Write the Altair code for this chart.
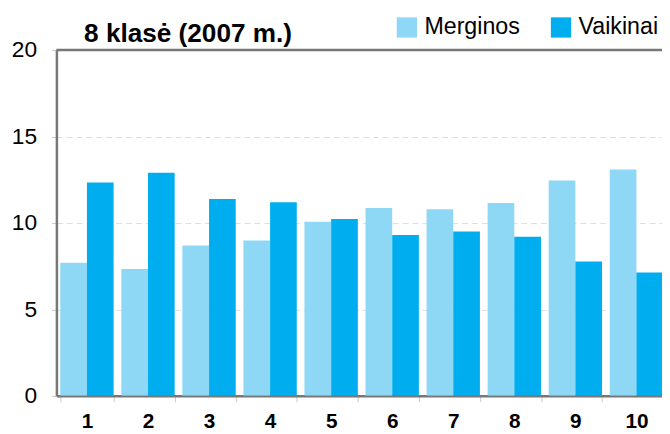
import altair as alt
import pandas as pd

grades = ["1", "2", "3", "4", "5", "6", "7", "8", "9", "10"]
merginos = [7.7, 7.33, 8.7, 8.99, 10.07, 10.86, 10.8, 11.16, 12.46, 13.09]
vaikinai = [12.34, 12.91, 11.39, 11.2, 10.23, 9.31, 9.5, 9.2, 7.77, 7.14]
series = ["Merginos", "Vaikinai"]
colors = ["#8ED8F6", "#00AEEF"]

rows = []
for i, g in enumerate(grades):
    rows.append({"klase": g, "lytis": series[0], "v": merginos[i]})
    rows.append({"klase": g, "lytis": series[1], "v": vaikinai[i]})
df = pd.DataFrame(rows)

FONT = "Liberation Sans"
AXIS_COL = "#777777"

bars = alt.Chart(df).mark_bar(clip=True).encode(
    x=alt.X("klase:N", sort=grades,
            scale=alt.Scale(range=[0, 618], paddingInner=0.126, paddingOuter=0.063),
            axis=alt.Axis(title=None, labelAngle=0, labelFont=FONT, labelFontSize=21,
                          labelFontWeight="bold", labelColor="#000000", labelPadding=9,
                          tickBand="extent", tickColor="#c8c8c8", tickSize=6,
                          domainColor=AXIS_COL, domainWidth=2.5, grid=False)),
    xOffset=alt.XOffset("lytis:N", sort=series, scale=alt.Scale(paddingInner=0, paddingOuter=0)),
    y=alt.Y("v:Q", scale=alt.Scale(domain=[0, 20], nice=False),
            axis=alt.Axis(title=None, values=[0, 5, 10, 15, 20], labelFont=FONT,
                          labelFontSize=23, labelColor="#000000", labelPadding=15,
                          tickColor="#c8c8c8", tickSize=5, domainColor=AXIS_COL,
                          domainWidth=2.5, grid=True, gridColor="#dddddd",
                          gridDash=[6, 4], gridWidth=1)),
    color=alt.Color("lytis:N", sort=series,
                    scale=alt.Scale(domain=series, range=colors),
                    legend=alt.Legend(title=None, orient="none", direction="horizontal",
                                      legendX=343, legendY=-35, padding=0,
                                      symbolType="square", symbolSize=420,
                                      symbolStrokeWidth=0, labelFont=FONT,
                                      labelFontSize=23.5, labelColor="#000000",
                                      labelOffset=6, columnPadding=29)),
)

top_line = alt.Chart(pd.DataFrame({"t": [20]})).mark_rule(
    color=AXIS_COL, strokeWidth=2.5).encode(y=alt.Y("t:Q"))

chart = alt.layer(bars, top_line).properties(
    width=613, height=350,
    padding={"left": 49, "top": 40, "right": 0, "bottom": 34},
    autosize=alt.AutoSizeParams(type="none"),
    title=alt.TitleParams(text="8 klasė (2007 m.)", anchor="start", frame="group",
                          font=FONT, fontSize=26.5, fontWeight="bold", color="#000000",
                          dx=28, dy=37, offset=5),
).configure_view(stroke=None)

chart.save("out.html", embed_options={"renderer": "svg", "actions": False})
